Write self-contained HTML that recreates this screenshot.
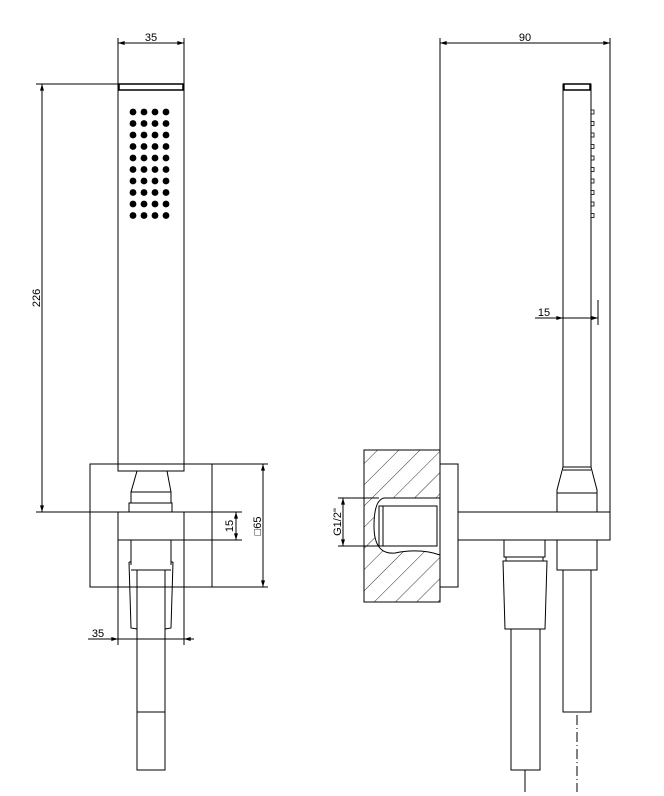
<!DOCTYPE html>
<html><head><style>body{margin:0;background:#fff}svg{display:block}text{font-family:"Liberation Sans",sans-serif;font-size:11px;fill:#000}</style></head>
<body>
<svg width="664" height="796" viewBox="0 0 664 796" xmlns="http://www.w3.org/2000/svg">
<defs>
<marker id="a" viewBox="0 0 10 6" refX="10" refY="3" markerWidth="8" markerHeight="4" orient="auto-start-reverse"><path d="M0,0L10,3L0,6z" fill="#000"/></marker>
<pattern id="h" width="15" height="15" patternUnits="userSpaceOnUse" patternTransform="rotate(45)"><line x1="0" y1="0" x2="0" y2="15" stroke="#000" stroke-width="0.8"/></pattern>
</defs>
<g fill="none" stroke="#000" stroke-width="1">
<!-- LEFT VIEW -->
<line x1="118" y1="38" x2="118" y2="84"/><line x1="184" y1="38" x2="184" y2="84"/>
<line x1="118" y1="43" x2="184" y2="43" marker-start="url(#a)" marker-end="url(#a)"/>
<rect x="118" y="84" width="66" height="387"/>
<rect x="119" y="84" width="64" height="6" stroke-width="1.5"/>
<line x1="36" y1="84" x2="118" y2="84"/>
<line x1="42" y1="84" x2="42" y2="512" marker-start="url(#a)" marker-end="url(#a)"/>
<line x1="36" y1="512" x2="118" y2="512"/>
<rect x="90" y="464" width="122" height="123"/>
<path d="M137,471 L131,492 L131,503 M167,471 L171,492 L171,503 M131,492 L171,492"/>
<rect x="129" y="503" width="43" height="9"/>
<rect x="118" y="512" width="66" height="28" fill="#fff"/>
<path d="M131,540 L131,565 M171,540 L171,565 M131,570 L171,570"/>
<path d="M129,562 L131,628 L137,629 M173,562 L171,628 L165,629 M129,562 L131,562 M173,562 L171,562"/>
<rect x="137" y="570" width="28" height="200"/>
<line x1="137" y1="712" x2="165" y2="712"/>
<line x1="118" y1="540" x2="118" y2="645"/><line x1="184" y1="540" x2="184" y2="645"/>
<line x1="88" y1="639" x2="118" y2="639" marker-end="url(#a)"/>
<line x1="118" y1="639" x2="192" y2="639"/>
<line x1="194" y1="639" x2="184" y2="639" marker-end="url(#a)"/>
<line x1="184" y1="512" x2="242" y2="512"/><line x1="184" y1="540" x2="242" y2="540"/>
<line x1="236" y1="512" x2="236" y2="540" marker-start="url(#a)" marker-end="url(#a)"/>
<line x1="212" y1="464" x2="268" y2="464"/><line x1="212" y1="587" x2="268" y2="587"/>
<line x1="263" y1="464" x2="263" y2="587" marker-start="url(#a)" marker-end="url(#a)"/>
<!-- RIGHT VIEW -->
<line x1="440" y1="38" x2="440" y2="450"/><line x1="610" y1="38" x2="610" y2="512"/>
<line x1="440" y1="43" x2="610" y2="43" marker-start="url(#a)" marker-end="url(#a)"/>
<rect x="563" y="84" width="28" height="383"/>
<rect x="564" y="84" width="26" height="6" stroke-width="1.5"/>
<line x1="598" y1="300" x2="598" y2="325"/>
<line x1="535" y1="318" x2="563" y2="318" marker-end="url(#a)"/>
<line x1="563" y1="318" x2="598" y2="318" marker-end="url(#a)"/>
<path d="M563,467 L557,490 L557,512 M591,467 L597,490 L597,512 M557,493 L597,493 M563,470 L591,470"/>
<rect x="364" y="450" width="76" height="152" fill="url(#h)"/>
<path d="M440,498 L384,498 Q374,500 374,526 Q374,555 395,553 Q420,548 440,555 Z" fill="#fff"/>
<rect x="379" y="506" width="58" height="40" fill="#fff"/>
<line x1="383" y1="506" x2="383" y2="546"/>
<rect x="440" y="464" width="18" height="123"/>
<rect x="458" y="512" width="152" height="28"/>
<line x1="338" y1="498" x2="379" y2="498"/><line x1="338" y1="546" x2="379" y2="546"/>
<line x1="343" y1="498" x2="343" y2="546" marker-start="url(#a)" marker-end="url(#a)"/>
<path d="M557,540 L557,570 L597,570 L597,540"/>
<rect x="563" y="570" width="28" height="142"/>
<line x1="577" y1="715" x2="577" y2="792" stroke-dasharray="10,3,1,3"/>
<path d="M504,540 L504,557 L545,557 L545,540 M506,557 L506,561 M543,557 L543,561"/>
<path d="M503,561 L547,561 L545,629 L505,629 Z"/>
<rect x="511" y="629" width="29" height="141"/>
<line x1="525" y1="770" x2="525" y2="792"/>
</g>
<g fill="#000">
<g id="dots">
<circle cx="133" cy="112" r="3.4"/><circle cx="144" cy="112" r="3.4"/><circle cx="155" cy="112" r="3.4"/><circle cx="166" cy="112" r="3.4"/>
</g>
<use href="#dots" y="11.5"/><use href="#dots" y="23"/><use href="#dots" y="34.5"/><use href="#dots" y="46"/><use href="#dots" y="57.5"/><use href="#dots" y="69"/><use href="#dots" y="80.5"/><use href="#dots" y="92"/><use href="#dots" y="103.5"/>
</g>
<g fill="none" stroke="#000" stroke-width="0.8">
<g id="b"><rect x="591" y="110" width="3" height="4"/></g>
<use href="#b" y="11.5"/><use href="#b" y="23"/><use href="#b" y="34.5"/><use href="#b" y="46"/><use href="#b" y="57.5"/><use href="#b" y="69"/><use href="#b" y="80.5"/><use href="#b" y="92"/><use href="#b" y="103.5"/>
</g>
<text x="151" y="41" text-anchor="middle">35</text>
<text x="525" y="41" text-anchor="middle">90</text>
<text transform="translate(40,298) rotate(-90)" text-anchor="middle">226</text>
<text x="98" y="637" text-anchor="middle">35</text>
<text transform="translate(233,526) rotate(-90)" text-anchor="middle">15</text>
<text transform="translate(261,526) rotate(-90)" text-anchor="middle">□65</text>
<text x="544" y="316" text-anchor="middle">15</text>
<text transform="translate(341,522) rotate(-90)" text-anchor="middle">G1/2"</text>
</svg>
</body></html>
